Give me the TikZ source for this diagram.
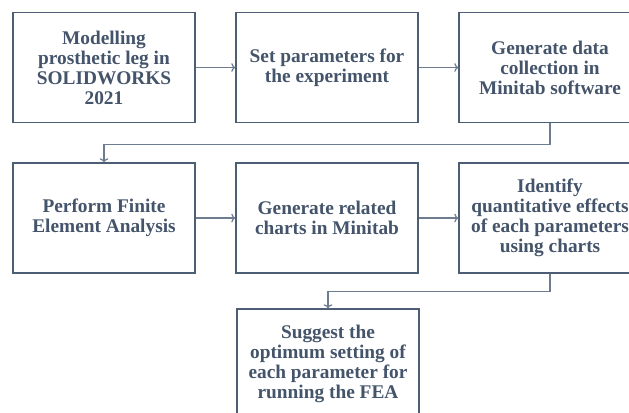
\documentclass[tikz,border=0pt]{standalone}
\usepackage{fontspec}
\setmainfont{Liberation Serif}
\usetikzlibrary{arrows.meta}

\definecolor{stepline}{HTML}{4D5D73}
\definecolor{steptext}{HTML}{44546A}
\definecolor{flowline}{HTML}{6E7C90}

\tikzset{
  stepbox/.style={draw=stepline, line width=1pt, fill=white,
    minimum width=136.5pt, minimum height=82.5pt, inner sep=2pt,
    align=center, text=steptext,
    font=\bfseries\fontsize{14.5}{15}\selectfont},
  flow/.style={draw=flowline, line width=0.9pt,
    -{To[length=3pt,width=6.5pt]}}
}

\begin{document}
\begin{tikzpicture}[x=0.75pt,y=-0.75pt]

% Ukuran gambar dan potongan tepi
\useasboundingbox (0,0) rectangle (629,412);
\clip (0,0) rectangle (629,412);
\fill[white] (0,0) rectangle (629,412);

% Baris pertama
\node[stepbox] (model) at (104,67.5) {Modelling\\prosthetic leg in\\SOLIDWORKS\\2021};
\node[stepbox] (param) at (327,67.5) {Set parameters for\\the experiment};
\node[stepbox] (data) at (550,67.5) {Generate data\\collection in\\Minitab software};

% Baris kedua
\node[stepbox] (fea) at (104,218) {Perform Finite\\Element Analysis};
\node[stepbox] (charts) at (327,218) {Generate related\\charts in Minitab};
\node[stepbox] (effects) at (550,218) {Identify\\quantitative effects\\of each parameters\\using charts};

% Kotak terakhir
\node[stepbox] (optimum) at (328,364) {Suggest the\\optimum setting of\\each parameter for\\running the FEA};

% Panah antar kotak
\draw[flow] (model) -- (param);
\draw[flow] (param) -- (data);
\draw[flow] (data.south) -- ++(0,21) -| (fea.north);
\draw[flow] (fea) -- (charts);
\draw[flow] (charts) -- (effects);
\draw[flow] (effects.south) -- ++(0,18) -| (optimum.north);

\end{tikzpicture}
\end{document}
